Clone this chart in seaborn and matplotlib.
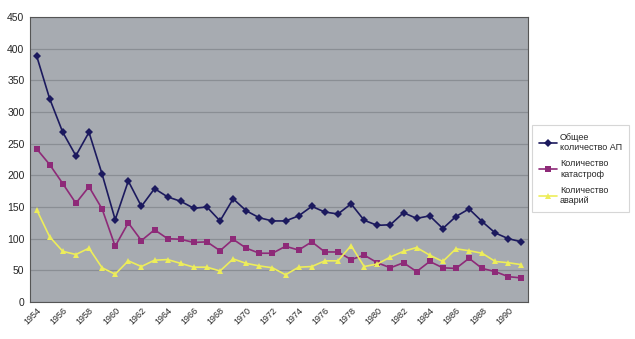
import matplotlib
matplotlib.use("Agg")
import matplotlib.pyplot as plt
import seaborn as sns
import pandas as pd

years = list(range(1954, 1992))
total = [389, 321, 268, 231, 268, 202, 130, 191, 151, 179, 166, 159, 148, 150, 128, 163,
         144, 133, 128, 128, 136, 151, 142, 139, 155, 129, 121, 122, 141, 132, 136, 116,
         135, 147, 127, 109, 100, 95]
catastrophes = [242, 217, 187, 156, 182, 147, 88, 125, 97, 114, 100, 99, 94, 95, 81, 99,
                85, 77, 77, 88, 82, 95, 79, 79, 67, 74, 62, 54, 62, 48, 64, 54,
                53, 69, 53, 48, 40, 38]
accidents = [146, 103, 80, 75, 85, 54, 44, 65, 56, 66, 67, 61, 55, 55, 49, 68,
             61, 57, 54, 43, 55, 56, 65, 65, 89, 56, 60, 71, 80, 86, 74, 64,
             84, 81, 77, 64, 62, 59]
series_names = ["Общее\nколичество АП", "Количество\nкатастроф", "Количество\nаварий"]
tick_years = list(range(1954, 1991, 2))
y_ticks = list(range(0, 451, 50))

df = pd.concat([
    pd.DataFrame({"year": years, "value": total, "series": series_names[0]}),
    pd.DataFrame({"year": years, "value": catastrophes, "series": series_names[1]}),
    pd.DataFrame({"year": years, "value": accidents, "series": series_names[2]}),
])

sns.set_style("white")
plt.rcParams["font.family"] = ["Liberation Sans", "DejaVu Sans"]

fig = plt.figure(figsize=(6.35, 3.39), dpi=100)
ax = fig.add_axes([30/635, 37/339, 498/635, 285/339])
ax.set_facecolor("#a7abb1")

palette = {series_names[0]: "#1c1a5e", series_names[1]: "#8e2a78", series_names[2]: "#eded5a"}
markers = {series_names[0]: "D", series_names[1]: "s", series_names[2]: "^"}
sns.lineplot(data=df, x="year", y="value", hue="series", style="series",
             palette=palette, markers=markers, dashes=False, markersize=4.5,
             markeredgewidth=0, linewidth=1.2, ax=ax)

ax.set_xlim(1953.5, 1991.5)
ax.set_ylim(0, 450)
ax.set_yticks(y_ticks)
ax.set_xticks(tick_years)
ax.set_xticklabels([str(y) for y in tick_years], rotation=45, ha="right",
                   rotation_mode="anchor", fontsize=6.5)
ax.tick_params(axis="y", labelsize=7.5, length=0, pad=4)
ax.tick_params(axis="x", length=0, pad=3)
ax.grid(axis="y", color="#8a8e94", linewidth=0.9)
ax.set_axisbelow(True)
for s in ax.spines.values():
    s.set_color("#555555")
    s.set_linewidth(0.8)
ax.set_xlabel("")
ax.set_ylabel("")

handles, labels = ax.get_legend_handles_labels()
leg = ax.legend(handles, labels, loc="upper left", bbox_to_anchor=(502/498, 0.62),
                frameon=True, fancybox=False, fontsize=6.5, handlelength=2.0,
                labelspacing=0.8, borderpad=0.8, handletextpad=0.3, borderaxespad=0)
leg.get_frame().set_edgecolor("#cccccc")
leg.get_frame().set_linewidth(0.8)

fig.savefig("out.png", dpi=100)
